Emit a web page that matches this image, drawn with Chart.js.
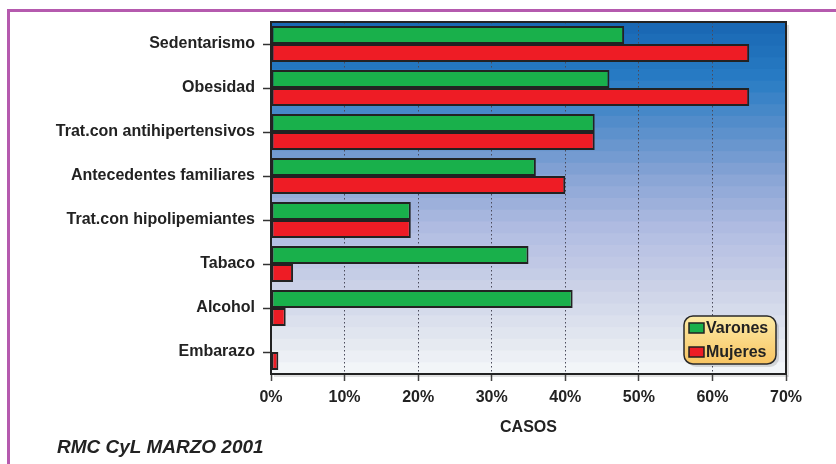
<!DOCTYPE html>
<html>
<head>
<meta charset="utf-8">
<script src="https://cdn.jsdelivr.net/npm/chart.js@4/dist/chart.umd.min.js"></script>
<style>
  html, body { margin: 0; padding: 0; background: #fff; }
  #wrap { position: relative; width: 836px; height: 464px; overflow: hidden; }
  #frame { position: absolute; left: 7px; top: 9px; width: 900px; height: 600px;
           border-top: 3px solid #b55aae; border-left: 3px solid #b55aae; }
  #chart { position: absolute; left: 0; top: 0; }
  #source { position: absolute; left: 57px; top: 436px; font: italic bold 19px "Liberation Sans", Arial, sans-serif; color: #222; }
</style>
</head>
<body>
<div id="wrap">
  <div id="frame"></div>
  <canvas id="chart" width="836" height="464"></canvas>
  <div id="source">RMC CyL MARZO 2001</div>
</div>
<script>
const categories = ['Sedentarismo', 'Obesidad', 'Trat.con antihipertensivos', 'Antecedentes familiares',
  'Trat.con hipolipemiantes', 'Tabaco', 'Alcohol', 'Embarazo'];
const varones = [48, 46, 44, 36, 19, 35, 41, 0];
const mujeres = [65, 65, 44, 40, 19, 3, 2, 1];
const xTicks = [0, 10, 20, 30, 40, 50, 60, 70];

const FONT = '"Liberation Sans", Arial, sans-serif';

// blue-to-white banded backdrop behind the bars
const bgStops = [
  [0.00, [26, 104, 180]],
  [0.15, [40, 124, 196]],
  [0.30, [90, 143, 203]],
  [0.45, [140, 166, 214]],
  [0.60, [178, 189, 226]],
  [0.78, [206, 212, 232]],
  [0.92, [228, 232, 240]],
  [1.00, [242, 245, 248]]
];
function bgColor(t) {
  for (let i = 1; i < bgStops.length; i++) {
    if (t <= bgStops[i][0]) {
      const a = bgStops[i - 1], b = bgStops[i];
      const f = (t - a[0]) / (b[0] - a[0]);
      const c = a[1].map((v, k) => Math.round(v + (b[1][k] - v) * f));
      return 'rgb(' + c.join(',') + ')';
    }
  }
  return 'rgb(242,245,248)';
}

const plotBackground = {
  id: 'plotBackground',
  beforeDraw(chart) {
    const {ctx, chartArea: a} = chart;
    ctx.save();
    ctx.fillStyle = 'rgba(0,0,0,0.12)';
    ctx.fillRect(a.left + 3, a.top + 3, a.width, a.height);
    const bands = 30;
    const h = a.height / bands;
    for (let i = 0; i < bands; i++) {
      ctx.fillStyle = bgColor(i / (bands - 1));
      ctx.fillRect(a.left, a.top + i * h, a.width, h + 1);
    }
    ctx.restore();
  },
  afterDraw(chart) {
    const {ctx, chartArea: a} = chart;
    ctx.save();
    ctx.strokeStyle = '#222';
    ctx.lineWidth = 2;
    ctx.strokeRect(a.left, a.top, a.width, a.height);
    ctx.restore();
  }
};

// rounded yellow legend box in the lower right corner of the plot
const boxLegend = {
  id: 'boxLegend',
  afterDraw(chart) {
    const {ctx, chartArea: a} = chart;
    const w = 92, h = 48;
    const x = a.right - 10 - w, y = a.bottom - 10 - h;
    ctx.save();
    ctx.fillStyle = 'rgba(0,0,0,0.12)';
    ctx.beginPath();
    ctx.roundRect(x + 3, y + 3, w, h, 9);
    ctx.fill();
    const g = ctx.createLinearGradient(0, y, 0, y + h);
    g.addColorStop(0, '#fdeba6');
    g.addColorStop(1, '#f8c462');
    ctx.fillStyle = g;
    ctx.beginPath();
    ctx.roundRect(x, y, w, h, 9);
    ctx.fill();
    ctx.strokeStyle = '#2a2a2a';
    ctx.lineWidth = 1.5;
    ctx.stroke();
    ctx.font = 'bold 16px ' + FONT;
    ctx.textBaseline = 'middle';
    chart.data.datasets.forEach((ds, i) => {
      const cy = y + 12 + i * 24;
      ctx.fillStyle = ds.backgroundColor;
      ctx.fillRect(x + 5, cy - 5, 15, 10);
      ctx.strokeStyle = '#222';
      ctx.lineWidth = 1.5;
      ctx.strokeRect(x + 5, cy - 5, 15, 10);
      ctx.fillStyle = '#222';
      ctx.fillText(ds.label, x + 22, cy + 1);
    });
    ctx.restore();
  }
};

new Chart(document.getElementById('chart'), {
  type: 'bar',
  data: {
    labels: categories,
    datasets: [
      {label: 'Varones', data: varones, backgroundColor: '#19b04b', borderColor: '#222', borderWidth: 2, borderSkipped: false},
      {label: 'Mujeres', data: mujeres, backgroundColor: '#ee1c25', borderColor: '#222', borderWidth: 2, borderSkipped: false}
    ]
  },
  options: {
    indexAxis: 'y',
    responsive: false,
    animation: false,
    devicePixelRatio: 1,
    datasets: {bar: {categoryPercentage: 0.82, barPercentage: 1.0}},
    layout: {padding: {top: 22, right: 50, left: 0, bottom: 0}},
    plugins: {legend: {display: false}, tooltip: {enabled: false}},
    scales: {
      x: {
        min: 0, max: 70,
        afterBuildTicks(scale) { scale.ticks = xTicks.map(v => ({value: v})); },
        afterFit(scale) { scale.height = 90; },
        ticks: {
          callback: v => v + '%',
          color: '#222', padding: 7,
          font: {family: FONT, size: 16, weight: 'bold'}
        },
        grid: {
          color: '#4a4a5a', lineWidth: 1,
          drawTicks: true, tickLength: 7, tickColor: '#444', tickBorderDash: [], tickWidth: 1.5
        },
        border: {display: true, color: '#222', width: 2, dash: [1.5, 2.5]},
        title: {
          display: true, text: 'CASOS', color: '#222',
          font: {family: FONT, size: 16, weight: 'bold'},
          padding: {top: 0, bottom: 27}
        }
      },
      y: {
        afterFit(scale) { scale.width = 271; },
        ticks: {
          color: '#222', padding: 8,
          font: {family: FONT, size: 16, weight: 'bold'}
        },
        grid: {
          offset: false, drawOnChartArea: false, drawTicks: true,
          tickLength: 8, tickColor: '#333', tickWidth: 1.5
        },
        border: {display: true, color: '#222', width: 2}
      }
    }
  },
  plugins: [plotBackground, boxLegend]
});
</script>
</body>
</html>
